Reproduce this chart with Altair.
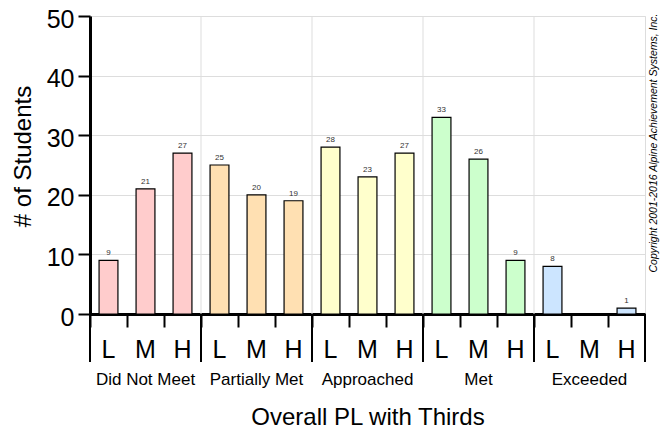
import altair as alt
import pandas as pd

groups = ["Did Not Meet", "Partially Met", "Approached", "Met", "Exceeded"]
thirds = ["L", "M", "H"]
counts = [
    [9, 21, 27],
    [25, 20, 19],
    [28, 23, 27],
    [33, 26, 9],
    [8, 0, 1],
]
colors = ["#FFCCCC", "#FFE0B2", "#FFFFCC", "#CCFFCC", "#CCE5FF"]
y_ticks = [0, 10, 20, 30, 40, 50]
y_title = "# of Students"
x_title = "Overall PL with Thirds"
copyright_text = "Copyright 2001-2016 Alpine Achievement Systems, Inc."

rows = []
for g, vals in zip(groups, counts):
    for t, v in zip(thirds, vals):
        rows.append({"group": g, "third": t, "key": f"{g}|{t}", "count": v})
df = pd.DataFrame(rows)
keys = list(df["key"])

FONT = "Liberation Sans"
x_scale = alt.Scale(domain=keys, paddingInner=0, paddingOuter=0)
y_scale = alt.Scale(domain=[0, 50], nice=False)
color_scale = alt.Scale(domain=groups, range=colors)

x_axis = alt.Axis(
    title=x_title, titleFontSize=24, titleFontWeight="normal", titleColor="black",
    titleY=103, titleBaseline="middle", titleFont=FONT,
    labelExpr="split(datum.value, '|')[1]", labelAngle=0, labelFontSize=25,
    labelColor="black", labelBaseline="middle", labelPadding=22, labelFont=FONT,
    tickSize=13, tickWidth=2, tickColor="black", bandPosition=0,
    domainColor="black", domainWidth=3, grid=False,
)
y_axis = alt.Axis(
    title=y_title, values=y_ticks, titleFontSize=24, titleFontWeight="normal",
    titleColor="black", titleX=-67, titleY=140, titleBaseline="middle", titleFont=FONT,
    labelFontSize=25, labelColor="black", labelPadding=4, labelFont=FONT,
    labelOffset=3,
    tickSize=12, tickWidth=2, tickColor="black",
    domainColor="black", domainWidth=3, grid=True, gridColor="#dddddd", gridWidth=1,
)

base = alt.Chart(df)

vgrid = base.transform_filter(
    f"datum.third == 'L' && datum.group != '{groups[0]}'"
).mark_rule(color="#dddddd", strokeWidth=1).encode(
    x=alt.X("key:N", scale=x_scale, bandPosition=0, axis=x_axis)
)

bars = base.transform_filter("datum.count > 0").mark_bar(
    width=alt.RelativeBandSize(0.51), stroke="black", strokeWidth=1.2
).encode(
    x=alt.X("key:N", scale=x_scale, axis=x_axis),
    y=alt.Y("count:Q", scale=y_scale, axis=y_axis),
    color=alt.Color("group:N", scale=color_scale, legend=None),
)

values = base.transform_filter("datum.count > 0").mark_text(
    baseline="bottom", dy=-3, fontSize=8, color="#333333", font=FONT
).encode(
    x=alt.X("key:N", scale=x_scale, axis=x_axis),
    y=alt.Y("count:Q", scale=y_scale, axis=y_axis),
    text="count:Q",
)

group_labels = base.transform_filter("datum.third == 'M'").mark_text(
    fontSize=17, baseline="middle", color="black", font=FONT
).encode(
    x=alt.X("key:N", scale=x_scale, axis=x_axis),
    y=alt.value(364),
    text="group:N",
)

long_ticks_start = base.transform_filter("datum.third == 'L'").mark_rule(
    color="black", strokeWidth=2
).encode(
    x=alt.X("key:N", scale=x_scale, bandPosition=0, axis=x_axis),
    y=alt.value(298),
    y2=alt.value(346),
)
long_ticks_end = base.transform_filter("datum.third == 'H'").mark_rule(
    color="black", strokeWidth=2
).encode(
    x=alt.X("key:N", scale=x_scale, bandPosition=1, axis=x_axis),
    y=alt.value(298),
    y2=alt.value(346),
)

copyright_layer = alt.Chart(pd.DataFrame({"t": [copyright_text]})).mark_text(
    angle=270, fontSize=10.5, fontStyle="italic", color="black", font=FONT,
    baseline="middle", align="center"
).encode(
    text="t:N",
    x=alt.value(564),
    y=alt.value(127),
)

chart = alt.layer(
    vgrid, bars, values, group_labels, long_ticks_start, long_ticks_end, copyright_layer
).properties(
    width=555, height=298,
    autosize=alt.AutoSizeParams(type="none"),
    padding={"left": 82, "top": 8, "right": 15, "bottom": 125},
).configure_view(
    stroke="black", strokeWidth=3
).configure(font=FONT)

chart.save("out.html", embed_options={"renderer": "svg", "actions": False})
